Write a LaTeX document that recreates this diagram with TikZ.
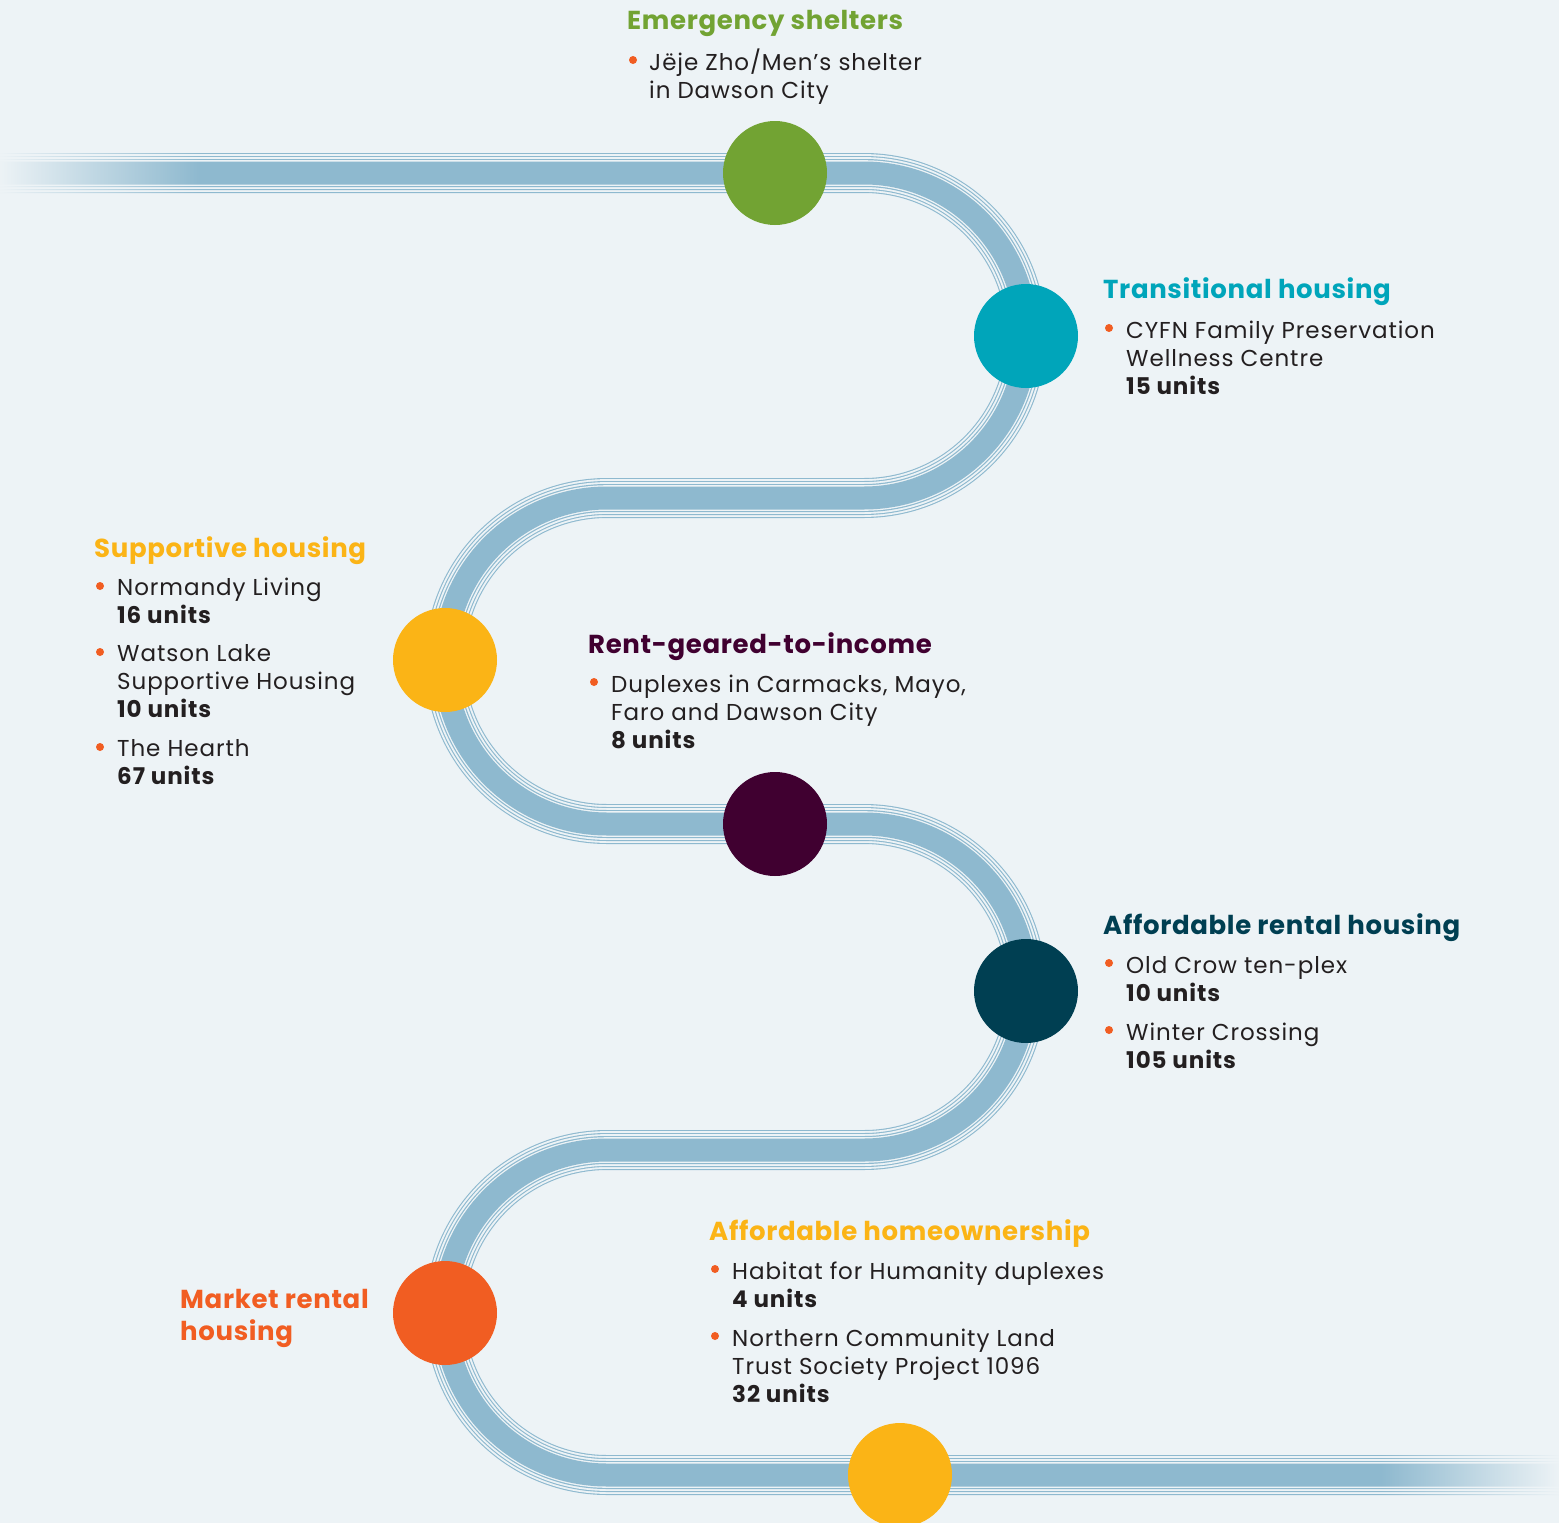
\documentclass[tikz,border=0pt]{standalone}
\usepackage{fontspec}
\setmainfont[LetterSpace = 4]{Poppins}
\newfontfamily\headingfont[LetterSpace = 2.5]{Poppins}
\usetikzlibrary{fadings}
\definecolor{backdrop}{HTML}{EDF3F6}
\definecolor{road}{HTML}{8EB9CF}
\definecolor{ink}{HTML}{231F20}
\definecolor{dot}{HTML}{F15D22}
\definecolor{shelter}{HTML}{72A333}
\definecolor{transitional}{HTML}{00A5BA}
\definecolor{supportive}{HTML}{FBB416}
\definecolor{geared}{HTML}{400030}
\definecolor{rental}{HTML}{003F52}
\definecolor{market}{HTML}{F15D22}
\definecolor{ownership}{HTML}{FBB416}
\newcommand\roadradius{162pt}
\newcommand\stopsize{104pt}
\newcommand\leftturn{445}
\newcommand\rightturn{1026}
\tikzfading[name = cover left, left color = transparent!0, right color = transparent!100]
\tikzfading[name = cover right, left color = transparent!100, right color = transparent!0]
\tikzset{
	stopcircle/.style = {circle, minimum size = \stopsize, inner sep = 0pt},
	heading/.style = {anchor = base west, align = left, inner sep = 0pt, font = \headingfont\bfseries\fontsize{26pt}{32pt}\selectfont},
	entry/.style = {anchor = base west, align = left, inner sep = 0pt, text = ink, font = \fontsize{23pt}{28pt}\selectfont},
}

\begin{document}
\begin{tikzpicture}[x = 1pt, y = -1pt]
	\fill [backdrop] (0, 0) rectangle (1559, 1523);
	\useasboundingbox (0, 0) rectangle (1559, 1523);

	% Road:
	\foreach \w/\c in {40/road, 37.8/backdrop, 34/road, 31.8/backdrop, 28/road, 25.6/backdrop, 23/road} {
		\draw [line width = \w pt, \c, rounded corners = \roadradius]
			(0, 173) -- (\rightturn, 173) -- (\rightturn, 498) -- (\leftturn, 498) -- (\leftturn, 824)
			-- (\rightturn, 824) -- (\rightturn, 1150) -- (\leftturn, 1150) -- (\leftturn, 1475) -- (1559, 1475);
	}
	\fill [backdrop, path fading = cover left] (0, 145) rectangle (200, 201);
	\fill [backdrop, path fading = cover right] (1380, 1447) rectangle (1559, 1503);

	% Stops:
	\node [stopcircle, fill = shelter] (shelterstop) at (775, 173) {};
	\node [stopcircle, fill = transitional] (transitionalstop) at (\rightturn, 336) {};
	\node [stopcircle, fill = supportive] (supportivestop) at (\leftturn, 660) {};
	\node [stopcircle, fill = geared] (gearedstop) at (775, 824) {};
	\node [stopcircle, fill = rental] (rentalstop) at (\rightturn, 991) {};
	\node [stopcircle, fill = market] (marketstop) at (\leftturn, 1313) {};
	\node [stopcircle, fill = ownership] (ownershipstop) at (900, 1475) {};

	% Bullets:
	\foreach \x/\y in {633/60, 1109/328, 100/586, 100/652, 100/747, 594/682, 1109/963, 1109/1030, 715/1269, 715/1336} {
		\fill [dot] (\x, \y) circle (4);
	}

	% Emergency shelters (entries sit on their last baseline)
	\node [heading, text = shelter] (sheltertitle) at (627, 30) {Emergency shelters};
	\node [entry] (shelterone) at (649, 98) {Jëje Zho/Men’s shelter\\in Dawson City};

	% Transitional housing
	\node [heading, text = transitional] (transitionaltitle) at (1103, 298) {Transitional housing};
	\node [entry] (transitionalone) at (1126, 394) {CYFN Family Preservation\\Wellness Centre\\\textbf{15 units}};

	% Supportive housing
	\node [heading, text = supportive] (supportivetitle) at (94, 557) {Supportive housing};
	\node [entry] (supportiveone) at (117, 623) {Normandy Living\\\textbf{16 units}};
	\node [entry] (supportivetwo) at (117, 717) {Watson Lake\\Supportive Housing\\\textbf{10 units}};
	\node [entry] (supportivethree) at (117, 784) {The Hearth\\\textbf{67 units}};

	% Rent-geared-to-income
	\node [heading, text = geared] (gearedtitle) at (588, 653) {Rent-geared-to-income};
	\node [entry] (gearedone) at (611, 748) {Duplexes in Carmacks, Mayo,\\Faro and Dawson City\\\textbf{8 units}};

	% Affordable rental housing
	\node [heading, text = rental] (rentaltitle) at (1103, 934) {Affordable rental housing};
	\node [entry] (rentalone) at (1126, 1001) {Old Crow ten-plex\\\textbf{10 units}};
	\node [entry] (rentaltwo) at (1126, 1068) {Winter Crossing\\\textbf{105 units}};

	% Market rental housing
	\node [heading, text = market] (markettitle) at (180, 1340) {Market rental\\housing};

	% Affordable homeownership
	\node [heading, text = ownership] (ownershiptitle) at (709, 1240) {Affordable homeownership};
	\node [entry] (ownershipone) at (732, 1307) {Habitat for Humanity duplexes\\\textbf{4 units}};
	\node [entry] (ownershiptwo) at (732, 1402) {Northern Community Land\\Trust Society Project 1096\\\textbf{32 units}};
\end{tikzpicture}
\end{document}
